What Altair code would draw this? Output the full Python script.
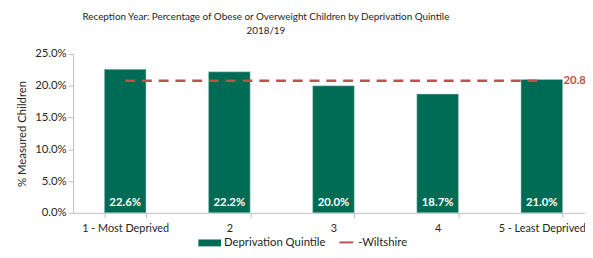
import altair as alt
import pandas as pd

categories = ["1 - Most Deprived", "2", "3", "4", "5 - Least Deprived"]
values = [0.226, 0.222, 0.200, 0.187, 0.210]
wiltshire = 0.208
title_lines = ["Reception Year: Percentage of Obese or Overweight Children by Deprivation Quintile", "2018/19"]

df = pd.DataFrame({"cat": categories, "val": values})
line_df = pd.DataFrame({"x1": [categories[0]], "x2": [categories[-1]], "w": [wiltshire]})

FONT = "Lato"
GREEN = "#006B54"
RED = "#C0504D"
TXT = "#262626"

xaxis = alt.Axis(labelAngle=0, labelFontSize=11, labelColor=TXT, labelFont=FONT,
                 tickBand="extent", tickSize=5, tickColor="#bfbfbf",
                 domainColor="#bfbfbf", labelPadding=5)
xscale = alt.Scale(paddingInner=0.6, paddingOuter=0.3, range=[0, 528])
yaxis = alt.Axis(format=".1%", values=[0, 0.05, 0.1, 0.15, 0.2, 0.25], grid=False,
                 labelOverlap=False,
                 labelFontSize=11.5, labelColor=TXT, labelFont=FONT,
                 titleFont=FONT, titleFontSize=11.5, titleFontWeight="normal",
                 titleColor=TXT, titlePadding=7,
                 tickSize=5, tickColor="#bfbfbf", domainColor="#bfbfbf")
yscale = alt.Scale(domain=[0, 0.25], nice=False)
YT = "% Measured Children"

bars = alt.Chart(df).mark_bar(color=GREEN, stroke="#b3d6cc", strokeWidth=0.5).encode(
    x=alt.X("cat:N", sort=categories, title=None, scale=xscale, axis=xaxis),
    y=alt.Y("val:Q", scale=yscale, title=YT, axis=yaxis),
)

labels = alt.Chart(df).mark_text(color="white", fontWeight="bold", fontSize=11.5, font=FONT, dy=-10).encode(
    x=alt.X("cat:N", sort=categories, title=None, scale=xscale, axis=xaxis),
    y=alt.datum(0, scale=yscale, title=YT, axis=yaxis),
    text=alt.Text("val:Q", format=".1%"),
)

rule = alt.Chart(line_df).mark_rule(color=RED, strokeWidth=2.5, strokeDash=[10, 7]).encode(
    x=alt.X("x1:N", sort=categories, bandPosition=0.5, title=None, scale=xscale, axis=xaxis),
    x2=alt.X2("x2:N"),
    y=alt.Y("w:Q", scale=yscale, title=YT, axis=yaxis),
)

rule_label = alt.Chart(line_df).mark_text(color=RED, fontWeight="bold", fontSize=11.5, font=FONT,
                                           align="left", dx=22).encode(
    x=alt.X("x2:N", sort=categories, title=None, scale=xscale, axis=xaxis),
    y=alt.Y("w:Q", scale=yscale, title=YT, axis=yaxis),
    text=alt.Text("w:Q", format=".1%"),
)

LY = 192
leg_rect = alt.Chart(pd.DataFrame({"a": [0]})).mark_rect(color=GREEN).encode(
    x=alt.value(127), x2=alt.value(150), y=alt.value(LY - 4), y2=alt.value(LY + 3))
leg_text1 = alt.Chart(pd.DataFrame({"t": ["Deprivation Quintile"]})).mark_text(
    align="left", baseline="middle", fontSize=11.5, font=FONT, color=TXT).encode(
    x=alt.value(153), y=alt.value(LY), text="t:N")
leg_line = alt.Chart(pd.DataFrame({"a": [0]})).mark_rule(color=RED, strokeWidth=2).encode(
    x=alt.value(270), x2=alt.value(284), y=alt.value(LY - 1))
leg_text2 = alt.Chart(pd.DataFrame({"t": ["-Wiltshire"]})).mark_text(
    align="left", baseline="middle", fontSize=11.5, font=FONT, color=TXT).encode(
    x=alt.value(289), y=alt.value(LY), text="t:N")

chart = alt.layer(bars, labels, rule, rule_label, leg_rect, leg_text1, leg_line, leg_text2).properties(
    width=519, height=161,
    title=alt.TitleParams(title_lines, fontSize=10, font=FONT, fontWeight="normal", color=TXT,
                          anchor="middle", dx=-64, offset=12, lineHeight=15),
    padding={"left": 66, "top": 45, "right": 0, "bottom": 36},
    autosize=alt.AutoSizeParams(type="none"),
).configure_view(stroke=None)

chart.save("out.html", embed_options={"renderer": "svg", "actions": False})
